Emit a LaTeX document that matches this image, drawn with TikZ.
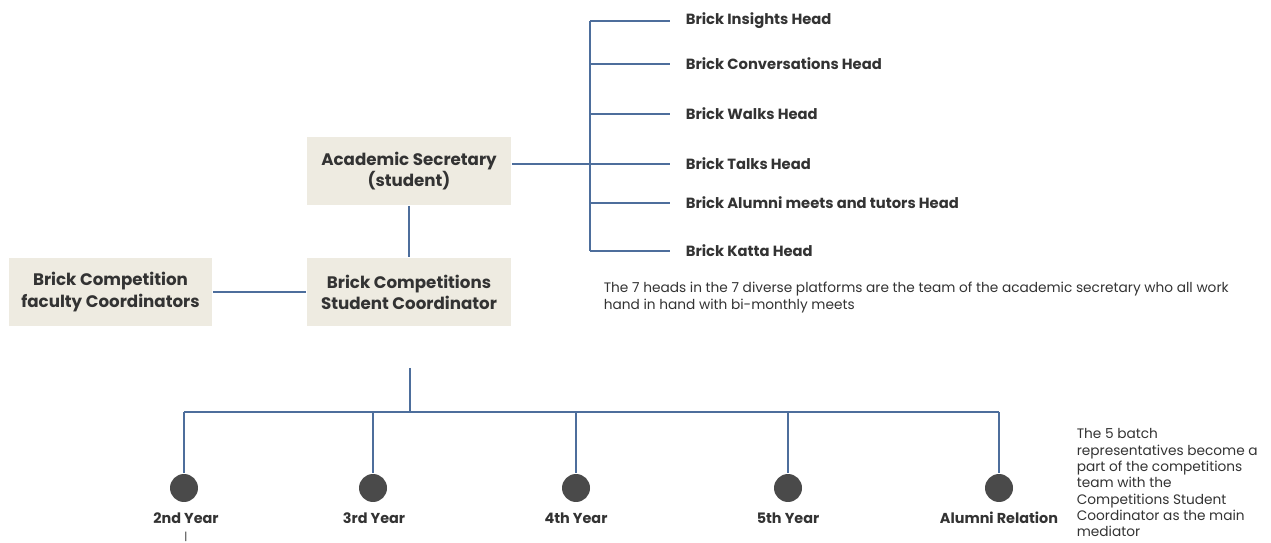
\documentclass[tikz,border=0pt]{standalone}
\usepackage{fontspec}
\setmainfont{Poppins}
\usepackage{tikz}
\usetikzlibrary{positioning,calc}

\definecolor{linkblue}{HTML}{4D6E9C}
\definecolor{boxfill}{HTML}{EEEBE1}
\definecolor{dotgray}{HTML}{4A4A4A}
\definecolor{inkgray}{HTML}{333333}

\begin{document}
\begin{tikzpicture}[x=0.02cm,y=-0.02cm,-,line width=0.9pt,linkblue,
	rolebox/.style={rectangle,fill=boxfill,draw=none,text=inkgray,align=center,minimum width=4.08cm,minimum height=1.36cm,font=\fontsize{9.5}{12}\selectfont\bfseries},
	headnode/.style={rectangle,anchor=west,inner xsep=0.3cm,text=inkgray,font=\fontsize{8.4}{10}\selectfont\bfseries},
	yearnode/.style={circle,fill=dotgray,draw=none,minimum size=0.56cm,inner sep=0pt},
	yearlabel/.style={text=inkgray,font=\fontsize{8.2}{10}\selectfont\bfseries},
	notenode/.style={anchor=north west,text=inkgray,align=left,inner sep=0pt,font=\fontsize{7.8}{9.7}\selectfont}]
	
	\useasboundingbox (0,0) rectangle (1271,543);
	
	\node [rolebox] (sec) at (409, 171) {Academic Secretary\\(student)};
	\node [rolebox] (coord) at (409, 292) {Brick Competitions\\Student Coordinator};
	\node [rolebox,minimum width=4.06cm] (fac) at (110.5, 292) {Brick Competition\\faculty Coordinators};
	
	\coordinate (tm) at (590, 164);
	\node [headnode] (h1) at (670, 21) {Brick Insights Head};
	\node [headnode] (h2) at (670, 64) {Brick Conversations Head};
	\node [headnode] (h3) at (670, 114) {Brick Walks Head};
	\node [headnode] (h4) at (670, 164) {Brick Talks Head};
	\node [headnode] (h5) at (670, 203) {Brick Alumni meets and tutors Head};
	\node [headnode] (h6) at (670, 251) {Brick Katta Head};
	
	\node [notenode] (note1) at (603, 281) {The 7 heads in the 7 diverse platforms are the team of the academic secretary who all work\\hand in hand with bi-monthly meets};
	
	\coordinate (top) at (410, 368);
	\coordinate (bus) at (410, 412);
	\node [yearnode] (y1) at (184, 488) {};
	\node [yearnode] (y2) at (373, 488) {};
	\node [yearnode] (y3) at (576, 488) {};
	\node [yearnode] (y4) at (788, 488) {};
	\node [yearnode] (y5) at (999, 488) {};
	\node [yearlabel] (l1) at (186, 518) {2nd Year};
	\node [yearlabel] (l2) at (374, 518) {3rd Year};
	\node [yearlabel] (l3) at (576, 518) {4th Year};
	\node [yearlabel] (l4) at (788, 518) {5th Year};
	\node [yearlabel] (l5) at (999, 518) {Alumni Relation};
	\node [text=inkgray,inner sep=0pt,font=\fontsize{6}{6}\selectfont] (tick) at (186, 537) {|};
	
	\node [notenode,align=left,font=\fontsize{7.8}{9.3}\selectfont] (note2) at (1076, 428) {The 5 batch\\representatives become a\\part of the competitions\\team with the\\Competitions Student\\Coordinator as the main\\mediator};
	
	\draw (sec) to (coord);
	\draw (fac) to (coord);
	\draw (sec.east |- tm) to (tm);
	\draw (h1.west -| tm) to (h6.west -| tm);
	\draw (h1.west -| tm) to (h1.west);
	\draw (h2.west -| tm) to (h2.west);
	\draw (h3.west -| tm) to (h3.west);
	\draw (h4.west -| tm) to (h4.west);
	\draw (h5.west -| tm) to (h5.west);
	\draw (h6.west -| tm) to (h6.west);
	
	\draw (top) to (bus);
	\draw (bus -| y1) to (bus -| y5);
	\draw (bus -| y1) to (y1);
	\draw (bus -| y2) to (y2);
	\draw (bus -| y3) to (y3);
	\draw (bus -| y4) to (y4);
	\draw (bus -| y5) to (y5);
\end{tikzpicture}
\end{document}
